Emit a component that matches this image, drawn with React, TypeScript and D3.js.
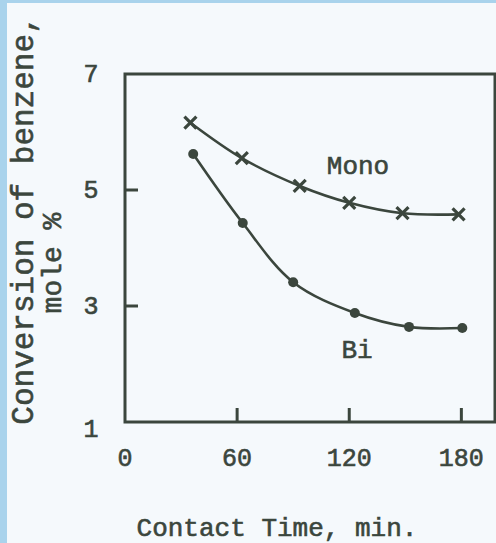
import * as d3 from "d3";
import React, { useEffect, useRef } from "react";

// contact time (min) and conversion (mole %)
const monoTime = [35, 62.5, 93.5, 120, 148.5, 178.5];
const monoConv = [6.16, 5.55, 5.07, 4.78, 4.6, 4.58];
const biTime = [36.5, 63, 90, 123, 152, 180.5];
const biConv = [5.62, 4.43, 3.41, 2.88, 2.64, 2.62];

const xTicks = [0, 60, 120, 180];
const yTicks = [1, 3, 5, 7];

const W = 496;
const H = 543;
const INK = "#3b463d";
const FONT = "'Liberation Mono', 'DejaVu Sans Mono', monospace";

const App = () => {
  const ref = useRef<SVGSVGElement | null>(null);

  useEffect(() => {
    const svg = d3.select(ref.current);
    svg.selectAll("*").remove();

    const x = d3.scaleLinear().domain([0, 198]).range([125, 495]);
    const y = d3.scaleLinear().domain([1, 7]).range([422, 74]);

    // scanned page background
    svg.append("rect").attr("width", W).attr("height", H).attr("fill", "#a9d3ec");
    svg.append("rect").attr("x", 7).attr("y", 3).attr("width", W - 7).attr("height", H - 3).attr("fill", "#f5f9fc");

    // frame
    svg
      .append("rect")
      .attr("x", x(0))
      .attr("y", y(7))
      .attr("width", x(198) - x(0))
      .attr("height", y(1) - y(7))
      .attr("fill", "none")
      .attr("stroke", INK)
      .attr("stroke-width", 3);

    // inward ticks
    svg
      .selectAll("line.xt")
      .data(xTicks.filter((d) => d > 0))
      .enter()
      .append("line")
      .attr("x1", (d) => x(d))
      .attr("x2", (d) => x(d))
      .attr("y1", y(1))
      .attr("y2", y(1) - 14)
      .attr("stroke", INK)
      .attr("stroke-width", 3);

    svg
      .selectAll("line.yt")
      .data(yTicks.filter((d) => d > 1 && d < 7))
      .enter()
      .append("line")
      .attr("x1", x(0))
      .attr("x2", x(0) + 13)
      .attr("y1", (d) => y(d))
      .attr("y2", (d) => y(d))
      .attr("stroke", INK)
      .attr("stroke-width", 3);

    const txt = svg
      .append("g")
      .attr("fill", INK)
      .attr("stroke", INK)
      .attr("stroke-width", 0.6)
      .style("font-family", FONT);

    txt
      .selectAll("text.xl")
      .data(xTicks)
      .enter()
      .append("text")
      .attr("x", (d) => x(d))
      .attr("y", 466)
      .attr("text-anchor", "middle")
      .style("font-size", "25px")
      .text((d) => d);

    txt
      .selectAll("text.yl")
      .data(yTicks)
      .enter()
      .append("text")
      .attr("x", 91)
      .attr("y", (d) => y(d) + 8 + (d === 1 ? 7 : 0))
      .attr("text-anchor", "middle")
      .style("font-size", "25px")
      .text((d) => d);

    txt
      .append("text")
      .attr("x", 277)
      .attr("y", 536)
      .attr("text-anchor", "middle")
      .style("font-size", "26px")
      .text("Contact Time, min.");

    txt
      .append("text")
      .attr("transform", "translate(33,220) rotate(-90)")
      .attr("text-anchor", "middle")
      .style("font-size", "31px")
      .text("Conversion of benzene,");

    txt
      .append("text")
      .attr("transform", "translate(61,263) rotate(-90)")
      .attr("text-anchor", "middle")
      .style("font-size", "28px")
      .text("mole %");

    txt.append("text").attr("x", 358).attr("y", 174).attr("text-anchor", "middle").style("font-size", "26px").text("Mono");
    txt.append("text").attr("x", 357).attr("y", 358).attr("text-anchor", "middle").style("font-size", "26px").text("Bi");

    // smooth hand-drawn style curves
    const line = d3
      .line<[number, number]>()
      .x((d) => x(d[0]))
      .y((d) => y(d[1]))
      .curve(d3.curveCatmullRom.alpha(0.5));

    const mono = d3.zip(monoTime, monoConv) as [number, number][];
    const bi = d3.zip(biTime, biConv) as [number, number][];

    [mono, bi].forEach((pts) => {
      svg
        .append("path")
        .attr("d", line(pts))
        .attr("fill", "none")
        .attr("stroke", INK)
        .attr("stroke-width", 2.6);
    });

    // mono: crosses
    const s = 6;
    svg
      .selectAll("path.cross")
      .data(mono)
      .enter()
      .append("path")
      .attr(
        "d",
        (d) => `M${x(d[0]) - s},${y(d[1]) - s}L${x(d[0]) + s},${y(d[1]) + s}M${x(d[0]) - s},${y(d[1]) + s}L${x(d[0]) + s},${y(d[1]) - s}`
      )
      .attr("stroke", INK)
      .attr("stroke-width", 3.2)
      .attr("fill", "none");

    // bi: dots
    svg
      .selectAll("circle.dot")
      .data(bi)
      .enter()
      .append("circle")
      .attr("cx", (d) => x(d[0]))
      .attr("cy", (d) => y(d[1]))
      .attr("r", 5)
      .attr("fill", INK);
  }, []);

  return (
    <svg ref={ref} width={W} height={H} style={{ position: "fixed", left: 0, top: 0 }}></svg>
  );
};

export default App;
